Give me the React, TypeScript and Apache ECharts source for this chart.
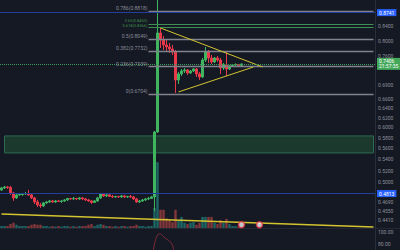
import { useEffect, useRef } from "react";
import * as echarts from "echarts";

// ---- data (prices) ----
const slotCount = 125;
// [open, close, low, high]
const candles: number[][] = [
  [0.4877, 0.4910, 0.4861, 0.4926], [0.4910, 0.4926, 0.4893, 0.4943], [0.4926, 0.4918, 0.4893, 0.4943],
  [0.4918, 0.4829, 0.4798, 0.4943], [0.4829, 0.4750, 0.4703, 0.4845], [0.4750, 0.4798, 0.4734, 0.4813],
  [0.4798, 0.4805, 0.4782, 0.4829], [0.4805, 0.4813, 0.4782, 0.4829], [0.4813, 0.4821, 0.4798, 0.4845],
  [0.4821, 0.4798, 0.4782, 0.4877], [0.4798, 0.4750, 0.4734, 0.4813], [0.4750, 0.4687, 0.4656, 0.4766],
  [0.4687, 0.4641, 0.4610, 0.4718], [0.4641, 0.4626, 0.4595, 0.4672], [0.4626, 0.4672, 0.4610, 0.4687],
  [0.4672, 0.4687, 0.4656, 0.4703], [0.4687, 0.4703, 0.4672, 0.4718], [0.4703, 0.4687, 0.4672, 0.4718],
  [0.4687, 0.4703, 0.4672, 0.4718], [0.4703, 0.4695, 0.4687, 0.4718], [0.4695, 0.4703, 0.4672, 0.4718],
  [0.4703, 0.4718, 0.4687, 0.4734], [0.4718, 0.4742, 0.4703, 0.4750], [0.4742, 0.4734, 0.4718, 0.4750],
  [0.4734, 0.4742, 0.4718, 0.4766], [0.4742, 0.4734, 0.4718, 0.4750], [0.4734, 0.4750, 0.4718, 0.4766],
  [0.4750, 0.4734, 0.4718, 0.4766], [0.4734, 0.4718, 0.4703, 0.4750], [0.4718, 0.4703, 0.4687, 0.4734],
  [0.4703, 0.4680, 0.4656, 0.4718], [0.4680, 0.4703, 0.4672, 0.4718], [0.4703, 0.4750, 0.4687, 0.4766],
  [0.4750, 0.4813, 0.4734, 0.4829], [0.4813, 0.4782, 0.4766, 0.4829], [0.4782, 0.4798, 0.4766, 0.4813],
  [0.4798, 0.4774, 0.4766, 0.4813], [0.4774, 0.4766, 0.4750, 0.4798], [0.4766, 0.4774, 0.4750, 0.4782],
  [0.4774, 0.4766, 0.4750, 0.4782], [0.4766, 0.4782, 0.4750, 0.4798], [0.4782, 0.4766, 0.4750, 0.4798],
  [0.4766, 0.4774, 0.4750, 0.4782], [0.4774, 0.4766, 0.4750, 0.4798], [0.4766, 0.4734, 0.4718, 0.4782],
  [0.4734, 0.4687, 0.4672, 0.4750], [0.4687, 0.4703, 0.4672, 0.4718], [0.4703, 0.4718, 0.4687, 0.4734],
  [0.4718, 0.4734, 0.4703, 0.4750], [0.4734, 0.4742, 0.4718, 0.4766], [0.4742, 0.4766, 0.4734, 0.4782],
  [0.4766, 0.5911, 0.4549, 0.5931], [0.5911, 0.8208, 0.5892, 0.9403],
  [0.8208, 0.8019, 0.7809, 0.8345], [0.8019, 0.7888, 0.7757, 0.8127], [0.7888, 0.7836, 0.7706, 0.8019],
  [0.7836, 0.7783, 0.7681, 0.7940], [0.7783, 0.7706, 0.7630, 0.7888], [0.7706, 0.7023, 0.6728, 0.7757],
  [0.7023, 0.7166, 0.6931, 0.7213], [0.7166, 0.7236, 0.7118, 0.7284], [0.7236, 0.7260, 0.7189, 0.7309],
  [0.7260, 0.7189, 0.7142, 0.7284], [0.7189, 0.7236, 0.7166, 0.7260], [0.7236, 0.7284, 0.7213, 0.7309],
  [0.7284, 0.7166, 0.7094, 0.7309], [0.7166, 0.7094, 0.7023, 0.7213], [0.7094, 0.7504, 0.7071, 0.7555],
  [0.7504, 0.7706, 0.7455, 0.7836], [0.7706, 0.7555, 0.7431, 0.7757], [0.7555, 0.7455, 0.7406, 0.7630],
  [0.7455, 0.7555, 0.7431, 0.7580], [0.7555, 0.7504, 0.7455, 0.7605], [0.7504, 0.7309, 0.7166, 0.7555],
  [0.7309, 0.7382, 0.7260, 0.7431], [0.7382, 0.7284, 0.7118, 0.7706], [0.7284, 0.7358, 0.7260, 0.7382],
  [0.7358, 0.7382, 0.7333, 0.7406], [0.7382, 0.7394, 0.7358, 0.7419], [0.7394, 0.7370, 0.7358, 0.7406],
  [0.7370, 0.7406, 0.7358, 0.7419],
];
const volumes: number[] = [
  3, 3, 3, 6, 8, 5, 3, 3, 3, 3,
  5, 6, 5, 5, 3, 3, 2, 3, 2, 3,
  2, 3, 3, 2, 3, 2, 3, 3, 3, 5,
  6, 3, 5, 6, 5, 3, 3, 2, 3, 2,
  3, 3, 2, 3, 3, 5, 3, 3, 2, 3,
  3, 31, 101, 28, 28, 15, 12, 9, 28, 11,
  17, 8, 6, 8, 9, 5, 8, 17, 17, 17,
  17, 8, 6, 12, 8, 14, 6, 3, 3, 2,
  2,
];
const rsi: number[] = [
  55, 58, 60, 57, 45, 48, 50, 51, 52, 50,
  45, 40, 36, 35, 42, 45, 47, 45, 47, 46,
  47, 49, 52, 51, 52, 51, 53, 51, 49, 47,
  44, 48, 54, 60, 56, 57, 54, 53, 54, 53,
  55, 53, 54, 53, 50, 45, 48, 50, 52, 53,
  56, 80, 95, 97, 92, 88, 85, 78, 60, 62,
  64, 65, 62, 64, 65, 61, 58, 66, 69, 65,
  63, 65, 64, 60, 62, 60, 61, 62, 62, 61,
  63,
];
const priceTicks = [0.84, 0.8, 0.76, 0.69, 0.66, 0.64, 0.62, 0.6, 0.58, 0.56, 0.54, 0.52, 0.5, 0.469, 0.455, 0.441];
const rsiTicks = [80, 100];
const fibLevels = ["0", "0.236", "0.382", "0.5", "0.618", "0.65", "0.786"];
const fibPrices = [0.6704, 0.7339, 0.7732, 0.8049, 0.8366, 0.8453, 0.8818];
const fibStartIdx = 49;
const lastPrice = 0.7406;
const countdown = "21:57:35";
const tickerName = "ADAUSDT";
const blueLevels = [0.8741, 0.4813];
const zoneTop = 0.5834;
const zoneBottom = 0.5514;
const triangleUpper = [[53, 0.8345], [87, 0.7333]];
const triangleLower = [[59, 0.675], [84, 0.7333]];
const longTrend = [[0, 0.4504], [124, 0.4314]];
const eventIdx = [80, 86];
const eventLevel = 5;
const priceMin = 0.4299;
const priceMax = 0.9156;

const UP = "#3fb560";
const DOWN = "#e8394a";
const FONT = "Roboto";

export default function App() {
  const ref = useRef<HTMLDivElement>(null);
  useEffect(() => {
    document.body.style.margin = "0";
    const chart = echarts.init(ref.current!, null, { renderer: "svg" });
    const L = Math.log;
    const cats = Array.from({ length: slotCount }, (_, i) => String(i));
    const lastIdx = slotCount - 1;
    const isGreenFib = (k: number) => fibLevels[k] === "0.618" || fibLevels[k] === "0.65";

    const fibLines = fibPrices.map((p, k) => {
      const green = isGreenFib(k);
      const ls = { color: green ? "#3f8f55" : "#80838d", width: green ? 1 : 1.3, type: "solid" };
      return [
        { coord: [fibStartIdx, L(p)], lineStyle: ls },
        { coord: [lastIdx, L(p)], lineStyle: ls },
      ];
    });
    const seg = (pts: number[][], color: string, width: number) => {
      const ls = { color, width, type: "solid" };
      return [
        { coord: [pts[0][0], L(pts[0][1])], lineStyle: ls },
        { coord: [pts[1][0], L(pts[1][1])], lineStyle: ls },
      ];
    };
    const axisBox = (bg: string) => ({
      show: true,
      position: "end",
      distance: 2,
      backgroundColor: bg,
      color: "#ffffff",
      fontSize: 5,
      lineHeight: 5,
      padding: [1, 2, 1, 2],
      fontFamily: FONT,
    });
    const fibOffset = (k: number) => {
      if (fibLevels[k] === "0.65") return [0, -3.8];
      if (fibLevels[k] === "0.618") return [0, -1.4];
      return [0, -3];
    };

    const option: any = {
      animation: false,
      backgroundColor: "#151924",
      textStyle: { fontFamily: FONT },
      grid: [
        { left: 0, right: 25, top: 0, height: 228 },
        { left: 0, right: 25, top: 229, height: 21 },
      ],
      xAxis: [
        { type: "category", gridIndex: 0, data: cats, show: false },
        { type: "category", gridIndex: 1, data: cats, show: false },
      ],
      yAxis: [
        {
          type: "value",
          gridIndex: 0,
          position: "right",
          min: L(priceMin),
          max: L(priceMax),
          splitLine: { show: false },
          axisTick: { show: false },
          axisLine: { show: true, lineStyle: { color: "#2a2e39" } },
          axisLabel: {
            customValues: priceTicks.map((p) => L(p)),
            formatter: (v: number) => Math.exp(v).toFixed(4),
            fontSize: 5,
            color: "#8c8f99",
            margin: 3,
            fontFamily: FONT,
          },
        },
        { type: "value", gridIndex: 0, min: 0, max: 350, show: false },
        {
          type: "value",
          gridIndex: 1,
          position: "right",
          min: 70,
          max: 105,
          splitLine: { show: false },
          axisTick: { show: false },
          axisLine: { show: true, lineStyle: { color: "#2a2e39" } },
          axisLabel: {
            customValues: rsiTicks,
            formatter: (v: number) => v.toFixed(2),
            fontSize: 5,
            color: "#8c8f99",
            margin: 3,
            fontFamily: FONT,
          },
        },
      ],
      graphic: [
        { type: "line", shape: { x1: 0, y1: 228.5, x2: 400, y2: 228.5 }, style: { stroke: "#232733", lineWidth: 1 } },
      ],
      series: [
        {
          type: "line",
          xAxisIndex: 0,
          yAxisIndex: 0,
          data: [],
          z: 1,
          markArea: {
            silent: true,
            itemStyle: { color: "#1b3a2d", borderColor: "#2d6a50", borderWidth: 1 },
            data: [[{ coord: [1, L(zoneTop)] }, { coord: [lastIdx, L(zoneBottom)] }]],
          },
        },
        {
          type: "bar",
          xAxisIndex: 0,
          yAxisIndex: 1,
          barWidth: "80%",
          z: 2,
          data: volumes.map((v, i) => ({
            value: v,
            itemStyle: {
              color: candles[i][1] >= candles[i][0] ? "rgba(38,166,154,0.55)" : "rgba(239,83,80,0.5)",
            },
          })),
        },
        {
          type: "line",
          xAxisIndex: 0,
          yAxisIndex: 0,
          data: [],
          z: 3,
          markLine: {
            silent: true,
            symbol: ["none", "none"],
            label: { show: false },
            data: [
              ...fibLines,
              seg(triangleUpper, "#d4c430", 1),
              seg(triangleLower, "#d4c430", 1),
              seg(longTrend, "#d4c430", 1.6),
              {
                yAxis: L(blueLevels[0]),
                lineStyle: { color: "#243e9c", width: 1, type: "solid" },
                label: { ...axisBox("#2962ff"), formatter: blueLevels[0].toFixed(4) },
              },
              {
                yAxis: L(blueLevels[1]),
                lineStyle: { color: "#243e9c", width: 1, type: "solid" },
                label: { ...axisBox("#2962ff"), formatter: blueLevels[1].toFixed(4) },
              },
              {
                yAxis: L(lastPrice),
                lineStyle: { color: "#3a9a5a", width: 1, type: [1, 1] },
                label: { ...axisBox("#43a85a"), formatter: lastPrice.toFixed(4) + "\n" + countdown },
              },
              {
                yAxis: L(lastPrice),
                lineStyle: { opacity: 0 },
                label: {
                  show: true,
                  position: "insideEnd",
                  distance: 0,
                  backgroundColor: "#43a85a",
                  color: "#ffffff",
                  fontSize: 4,
                  padding: [1, 2, 1, 2],
                  fontFamily: FONT,
                  formatter: tickerName,
                },
              },
            ],
          },
        },
        {
          type: "candlestick",
          xAxisIndex: 0,
          yAxisIndex: 0,
          barWidth: 1.6,
          z: 4,
          itemStyle: { color: UP, color0: DOWN, borderColor: UP, borderColor0: DOWN, borderWidth: 1 },
          data: candles.map((c) => c.map((v) => L(v))),
        },
        {
          type: "scatter",
          xAxisIndex: 0,
          yAxisIndex: 0,
          symbolSize: 0,
          z: 5,
          data: fibPrices.map((p, k) => ({
            value: [fibStartIdx, L(p)],
            label: {
              show: true,
              position: "left",
              distance: 1,
              offset: fibOffset(k),
              fontSize: isGreenFib(k) ? 4 : 5,
              lineHeight: isGreenFib(k) ? 4 : 6,
              fontFamily: FONT,
              color: isGreenFib(k) ? "#4caf50" : "#a9acb5",
              formatter: `${fibLevels[k]}(${p.toFixed(4)})`,
            },
          })),
        },
        {
          type: "scatter",
          xAxisIndex: 0,
          yAxisIndex: 1,
          symbol: "circle",
          symbolSize: 6,
          z: 6,
          itemStyle: { color: "#eef0f5", borderColor: "#e0343f", borderWidth: 1.5 },
          data: eventIdx.map((i) => [i, eventLevel]),
        },
        {
          type: "line",
          xAxisIndex: 1,
          yAxisIndex: 2,
          data: rsi,
          symbol: "none",
          smooth: 0.4,
          clip: true,
          lineStyle: { color: "#7e2a36", width: 1 },
        },
      ],
    };
    chart.setOption(option);
    return () => chart.dispose();
  }, []);
  return <div ref={ref} style={{ position: "fixed", left: 0, top: 0, width: 400, height: 250 }} />;
}
